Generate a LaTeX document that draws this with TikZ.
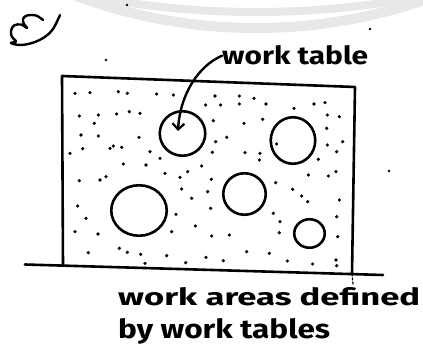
\documentclass[tikz,border=0pt]{standalone}
\usepackage{fontspec}
\setmainfont{Fira Sans}
\usetikzlibrary{arrows.meta,shapes.geometric}
\tikzset{
  ink/.style={draw=black,line width=2.6pt,line cap=round,line join=round},
  worktable/.style={ink,ellipse,inner sep=0pt},
  hand/.style={inner sep=0pt,font=\bfseries},
  speck/.style={fill=black},
  watermark/.style={draw=black!9,line width=#1}
}
\begin{document}
\begin{tikzpicture}[x=1pt,y=-1pt]
\useasboundingbox[fill=white] (0,0) rectangle (423,350);
% faint watermark rings
\begin{scope}
\clip (0,0) rectangle (423,350);
\draw[watermark=10pt] (256,-490) circle (518);
\draw[watermark=8pt] (256,-860) circle (872);
\end{scope}
% the "3" mark
\draw[ink,line width=2.4pt] plot[smooth,tension=0.6] coordinates {(43,20) (36,15.5) (27,15.5) (23,19) (24,24) (27,28) (21,24.5) (14,25.5) (11,31) (12,37) (16,41.5) (11,43) (20,45) (32,43) (44,37.5) (53,29) (60,15)};
% room outline and floor line
\draw[ink] (63,265.5) -- (62,76) -- (355,87) -- (352,274);
\draw[ink,line width=1.2pt,dash pattern=on 2pt off 2pt] (352,274) -- (353,284);
\draw[ink] (25,264.5) -- (383,275);
% work tables
\node[worktable,minimum width=45.5pt,minimum height=44.5pt] (t1) at (182.5,133.5) {};
\node[worktable,minimum width=44.5pt,minimum height=46.5pt] (t2) at (293,140.5) {};
\node[worktable,minimum width=55.5pt,minimum height=50.5pt] (t3) at (139,210.5) {};
\node[worktable,minimum width=42.5pt,minimum height=41.5pt] (t4) at (244.5,194) {};
\node[worktable,minimum width=30.5pt,minimum height=28.5pt] (t5) at (309.5,233.5) {};
% stippled work area
\foreach \a/\b in {105/10,150/8,235/5,262/10,350/12,400/15,525/18,598/18,642/25,497/45,542/45,598/42,678/42,822/42,855/38,762/55,
118/78,175/75,230/72,268/65,300/70,163/100,520/92,612/100,668/88,862/75,898/80,
123/135,175/138,297/142,560/142,527/155,710/162,860/115,862/165,908/155,
128/176,210/175,220/168,245/172,330/185,360/205,517/187,615/188,660/190,658/210,835/208,890/185,
90/190,250/222,318/225,485/228,443/245,375/250,420/262,514/268,
118/272,180/270,198/260,805/255,865/258,888/245,
425/297,455/325,503/305,512/355,707/278,758/298,785/318,803/335,898/330,
113/348,138/385,408/373,466/408,700/370,720/395,718/428,890/380,
105/425,174/432,395/425,515/438,568/435,893/440,
145/488,238/475,262/487,302/493,380/497,498/502,437/518,550/512,620/485,688/490,742/513,818/522,888/510,890/527,315/520}
  \fill[speck] ({40+\a/3},{90+\b/3}) circle (1.8);
% stray specks
\foreach \p in {(127,5),(370,29),(106,60),(389,171)}
  \fill[speck] \p circle (1.4);
% labels
\node[hand,anchor=base west] (lbl) at (222,65) {\resizebox{146pt}{19pt}{work table}};
\coordinate (tip) at (178,131);
\draw[ink,line width=2.4pt,-{Straight Barb[length=6pt,width=12pt,line width=2.2pt]}] (lbl.west) .. controls (198,66) and (180,95) .. (tip);
\node[hand,anchor=base west] (cap1) at (118,305) {\resizebox{302pt}{18pt}{work areas defined}};
\node[hand,anchor=base west] (cap2) at (118,338) {\resizebox{212pt}{20pt}{by work tables}};
\end{tikzpicture}
\end{document}
